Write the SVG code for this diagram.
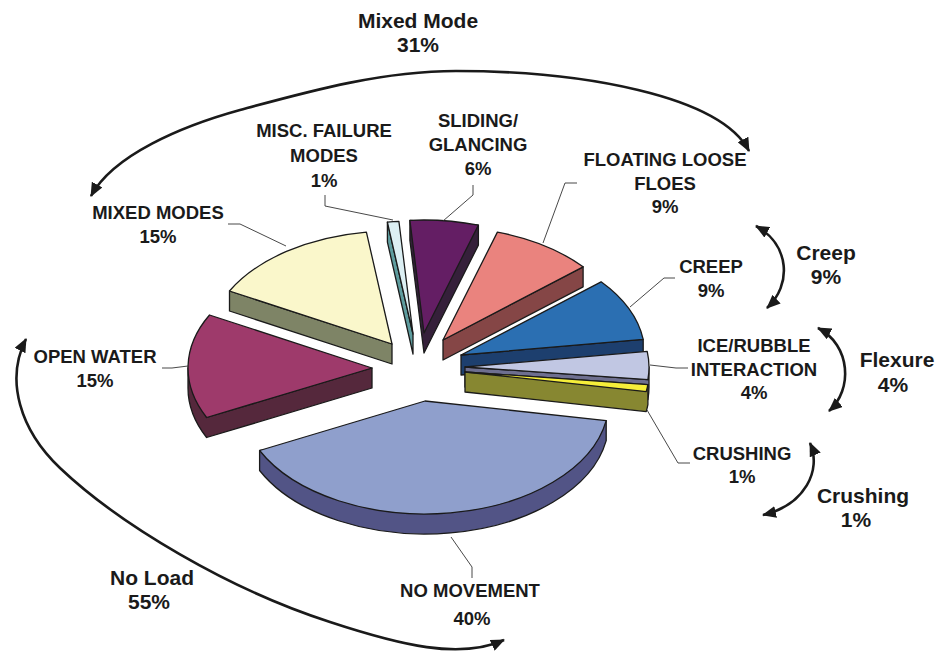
<svg xmlns="http://www.w3.org/2000/svg" width="938" height="656" viewBox="0 0 938 656">
<defs>
<style>
.f{stroke:#1a1a1a;stroke-width:1.3;stroke-linejoin:round}
.lbl{font-family:"Liberation Sans",Arial,sans-serif;font-weight:bold;font-size:18.5px;fill:#1a1a1a;text-anchor:middle}
.grp{font-family:"Liberation Sans",Arial,sans-serif;font-weight:bold;font-size:21px;fill:#1a1a1a;text-anchor:middle}
.ld{fill:none;stroke:#333;stroke-width:0.9}
.ar{fill:none;stroke:#1a1a1a;stroke-width:2.6;marker-start:url(#ah);marker-end:url(#ah)}
</style>
<marker id="ah" viewBox="0 0 14 12" refX="13" refY="6" markerWidth="14" markerHeight="12" markerUnits="userSpaceOnUse" orient="auto-start-reverse">
<path d="M0,0 L14,6 L0,12 Z" fill="#1a1a1a"/>
</marker>
</defs>
<rect width="938" height="656" fill="#fff"/>

<g id="slice-sliding">
<path class="f" fill="#35203A" d="M409.9,220.3 L409.9,240.3 L424,353 L478.4,245.1 L478.4,225.1 Z"/>
<path class="f" fill="#641E64" d="M424,333 L409.9,220.3 A184,113 0 0 1 478.4,225.1 Z"/>
<text class="lbl"><tspan x="478" y="127">SLIDING/</tspan><tspan x="478" y="151">GLANCING</tspan><tspan x="478" y="175">6%</tspan></text>
</g>

<g id="slice-misc">
<path class="f" fill="#5E9C9E" d="M413,334 L387.4,222.1 L387.4,242.1 L413,354 Z"/>
<path class="f" fill="#DCEFF3" d="M413,334 L387.4,222.1 A184,113 0 0 1 398.9,221.3 Z"/>
<text class="lbl"><tspan x="324" y="137">MISC. FAILURE</tspan><tspan x="324" y="162">MODES</tspan><tspan x="324" y="187">1%</tspan></text>
</g>

<g id="slice-floating">
<path class="f" fill="#854646" d="M443,340 L583.1,266.8 L583.1,286.8 L443,360 Z"/>
<path class="f" fill="#EA837E" d="M443,340 L497.4,232.1 A184,113 0 0 1 583.1,266.8 Z"/>
<text class="lbl"><tspan x="665" y="166">FLOATING LOOSE</tspan><tspan x="665" y="190">FLOES</tspan><tspan x="665" y="213">9%</tspan></text>
</g>

<g id="slice-mixed">
<path class="f" fill="#7E8466" d="M392,344 L229.5,291 L229.5,311 L392,364 Z"/>
<path class="f" fill="#FAF7CB" d="M392,344 L229.5,291 A184,113 0 0 1 366.4,232.1 Z"/>
<text class="lbl"><tspan x="158" y="219">MIXED MODES</tspan><tspan x="158" y="243">15%</tspan></text>
</g>

<g id="slice-creep">
<path class="f" fill="#1D3F6E" d="M461,355 L643.2,339.3 L643.2,359.3 L461,375 Z"/>
<path class="f" fill="#2B6FB2" d="M461,355 L601.1,281.8 A184,113 0 0 1 643.2,339.3 Z"/>
<text class="lbl"><tspan x="711" y="273">CREEP</tspan><tspan x="711" y="297">9%</tspan></text>
</g>

<g id="slice-open-water">
<path class="f" fill="#55283C" d="M372,388 L206.6,437.5 A184,113 0 0 1 188,388 L188,368 L206.6,417.5 L372,368 Z"/>
<path class="f" fill="#9E3A6B" d="M372,368 L206.6,417.5 A184,113 0 0 1 209.5,315 Z"/>
<text class="lbl"><tspan x="95" y="363">OPEN WATER</tspan><tspan x="95" y="387">15%</tspan></text>
</g>

<g id="slice-ice-rubble">
<path class="f" fill="#6E6F90" d="M649,367 L649,387 A184,113 0 0 1 647.9,399.6 L465,387 L465,367 L647.9,379.6 Z"/>
<path class="f" fill="#C1C7E3" d="M465,367 L647.2,351.3 A184,113 0 0 1 647.9,379.6 Z"/>
<text class="lbl"><tspan x="754" y="352">ICE/RUBBLE</tspan><tspan x="754" y="376">INTERACTION</tspan><tspan x="754" y="399">4%</tspan></text>
</g>

<g id="slice-crushing">
<path class="f" fill="#878731" d="M647.9,384.6 L647.9,404.6 A184,113 0 0 1 646.2,411.6 L465,392 L465,372 Z"/>
<path class="f" fill="#F6EE3A" d="M465,372 L647.9,384.6 A184,113 0 0 1 646.2,391.6 Z"/>
<text class="lbl"><tspan x="742" y="460">CRUSHING</tspan><tspan x="742" y="483">1%</tspan></text>
</g>

<g id="slice-no-movement">
<path class="f" fill="#525486" d="M606.2,420.6 L606.2,440.6 A184,113 0 0 1 259.6,470.5 L259.6,450.5 Z"/>
<path class="f" fill="#8F9FCC" d="M425,401 L606.2,420.6 A184,113 0 0 1 259.6,450.5 Z"/>
<text class="lbl"><tspan x="470" y="597">NO MOVEMENT</tspan><tspan x="472" y="625">40%</tspan></text>
</g>

<g id="group-labels">
<text class="grp"><tspan x="418" y="28">Mixed Mode</tspan><tspan x="418" y="52">31%</tspan></text>
<text class="grp"><tspan x="826" y="260">Creep</tspan><tspan x="826" y="284">9%</tspan></text>
<text class="grp"><tspan x="897" y="367">Flexure</tspan><tspan x="893" y="392">4%</tspan></text>
<text class="grp"><tspan x="863" y="503">Crushing</tspan><tspan x="856" y="527">1%</tspan></text>
<text class="grp"><tspan x="152" y="585">No Load</tspan><tspan x="149" y="609">55%</tspan></text>
</g>

<g id="connectors">
<path class="ld" d="M228,224 L240,224 L286,246"/>
<path class="ld" d="M325,195 L325,206 L393,220"/>
<path class="ld" d="M473,185 L473,195 L443,221"/>
<path class="ld" d="M577,183 L565,183 L543,243"/>
<path class="ld" d="M675,278 L664,278 L630,307"/>
<path class="ld" d="M650,365 L676,368 L688,368"/>
<path class="ld" d="M690,463 L678,463 L647,410"/>
<path class="ld" d="M162,368 L172,368 L188,366"/>
<path class="ld" d="M451,537 L472,567 L472,578"/>
<path class="ar" d="M91,196 C113,155 182,126 240,110 C307.5,91.7 381,71 456,71 C580,71 720,95 749,151"/>
<path class="ar" d="M756,226 C790,245 792,285 767,308"/>
<path class="ar" d="M818,328 C851,345 853,390 829,411"/>
<path class="ar" d="M810,443 C822,470 805,505 763,515"/>
<path class="ar" d="M26,339 C5,380 20,430 60,468 C120,525 230,590 330,622 C400,645 460,660 504,640"/>
</g>
</svg>
